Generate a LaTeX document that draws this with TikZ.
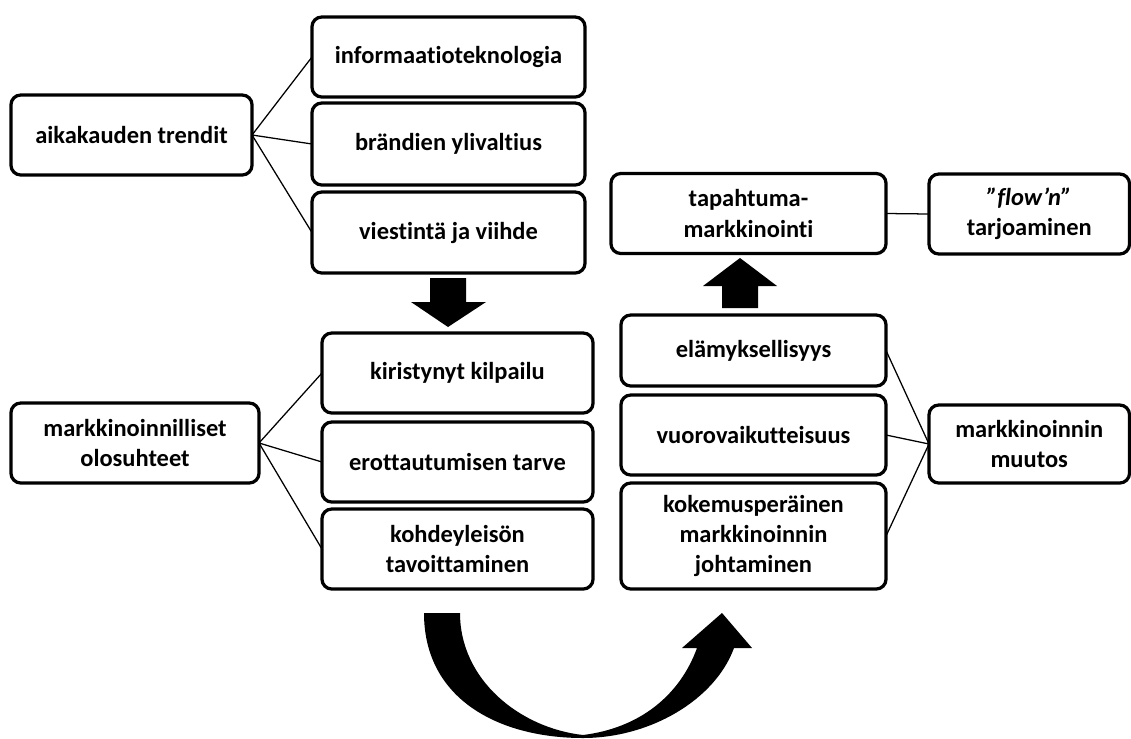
\documentclass[tikz,border=0pt]{standalone}
\usepackage{fontspec}
\setmainfont{Carlito}[Ligatures=NoCommon]
\usetikzlibrary{calc}

\begin{document}
\begin{tikzpicture}[x=0.025cm, y=-0.025cm,
  box/.style={draw, line width=2.3pt, rounded corners=7pt, align=center, outer sep=0pt, inner sep=2pt, font=\fontsize{17.4}{21.5}\selectfont\bfseries},
  link/.style={line width=0.9pt}]

\useasboundingbox (0,0) rectangle (1131,738);

% aikakauden trendit
\node[box, minimum width=6.025cm, minimum height=2cm] (trend) at (131.5,135) {aikakauden trendit};
\node[box, minimum width=6.825cm, minimum height=2cm] (info) at (448.5,57) {informaatioteknologia};
\node[box, minimum width=6.825cm, minimum height=2.05cm] (brand) at (448.5,144) {brändien ylivaltius};
\node[box, minimum width=6.825cm, minimum height=2.025cm] (viesti) at (448.5,232.5) {viestintä ja viihde};

 \draw[link] (trend.east) -- (info.west);
 \draw[link] (trend.east) -- (brand.west);
 \draw[link] (trend.east) -- (viesti.west);

\fill (430,278) -- (466,278) -- (466,302) -- (486,302) -- (448,327) -- (411,302) -- (430,302) -- cycle;

% markkinoinnilliset olosuhteet
\node[box, minimum width=6.2cm, minimum height=2cm] (olo) at (135,443) {markkinoinnilliset\\olosuhteet};
\node[box, minimum width=6.775cm, minimum height=2cm] (kilp) at (457.5,373) {kiristynyt kilpailu};
\node[box, minimum width=6.775cm, minimum height=2cm] (erot) at (457.5,462) {erottautumisen tarve};
\node[box, minimum width=6.775cm, minimum height=2cm] (kohde) at (457.5,549) {kohdeyleisön\\tavoittaminen};

 \draw[link] (olo.east) -- (kilp.west);
 \draw[link] (olo.east) -- (erot.west);
 \draw[link] (olo.east) -- (kohde.west);

% curved arrow
\fill (424,613) .. controls (424,700) and (500,738) .. (583,738)
  .. controls (650,738) and (715,700) .. (734,648) -- (752,648) -- (722,613) -- (682,648) -- (697,648)
  .. controls (680,695) and (640,728) .. (583,735)
  .. controls (520,728) and (460,680) .. (460,613) -- cycle;

% markkinoinnin muutos
\node[box, minimum width=6.625cm, minimum height=1.775cm] (elamys) at (753.5,350.5) {elämyksellisyys};
\node[box, minimum width=6.625cm, minimum height=2cm] (vuoro) at (753.5,435) {vuorovaikutteisuus};
\node[box, minimum width=6.625cm, minimum height=2.65cm] (koke) at (753.5,536) {kokemusperäinen\\markkinoinnin\\johtaminen};
\node[box, minimum width=5.0125cm, minimum height=1.95cm] (muutos) at (1029.25,444) {markkinoinnin\\muutos};

 \draw[link] (muutos.west) -- (elamys.east);
 \draw[link] (muutos.west) -- (vuoro.east);
 \draw[link] (muutos.west) -- (koke.east);

\fill (722,308) -- (758,308) -- (758,286) -- (777,286) -- (740,258) -- (703,286) -- (722,286) -- cycle;

% tapahtumamarkkinointi
\node[box, minimum width=6.875cm, minimum height=2cm] (tapaht) at (748.5,213.5) {tapahtuma-\\markkinointi};
\node[box, minimum width=5.0125cm, minimum height=2cm] (flow) at (1029.25,214) {\textit{”flow’n”}\\tarjoaminen};

 \draw[link] (tapaht.east) -- (flow.west);

\end{tikzpicture}
\end{document}
